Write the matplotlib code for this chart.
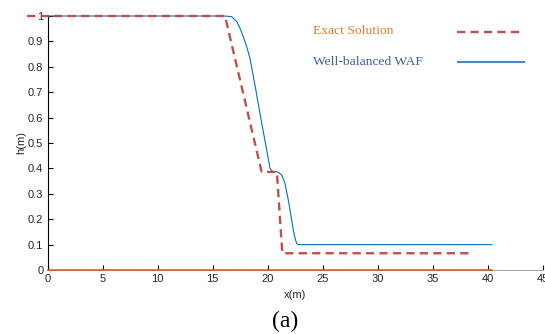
import matplotlib
matplotlib.use("Agg")
import matplotlib.pyplot as plt
from matplotlib.lines import Line2D

# Data
exact_x = [-1.85, 16.14, 19.47, 20.85, 21.35, 38.7]
exact_h = [1.0, 1.0, 0.386, 0.386, 0.066, 0.066]

waf_x = [0.0, 15.98, 16.4, 16.75, 17.2, 17.5, 17.8, 18.11, 18.41, 18.86, 19.47, 19.93,
         20.09, 20.23, 20.38, 20.53, 20.84, 21.05, 21.29, 21.59, 21.89, 22.2, 22.35,
         22.5, 22.65, 22.8, 40.4]
waf_h = [1.0, 1.0, 0.999, 0.997, 0.978, 0.952, 0.919, 0.879, 0.833, 0.728, 0.579, 0.472,
         0.433, 0.400, 0.391, 0.387, 0.387, 0.383, 0.374, 0.341, 0.276, 0.197, 0.157,
         0.126, 0.104, 0.100, 0.100]

bed_x = [0.0, 40.4]
bed_h = [0.0, 0.0]

xticks = [0, 5, 10, 15, 20, 25, 30, 35, 40, 45]
yticks = [0, 0.1, 0.2, 0.3, 0.4, 0.5, 0.6, 0.7, 0.8, 0.9, 1]
ytick_labels = ["0", "0.1", "0.2", "0.3", "0.4", "0.5", "0.6", "0.7", "0.8", "0.9", "1"]

W, H = 545, 334
fig = plt.figure(figsize=(W / 100, H / 100), dpi=100)
ax = fig.add_axes([47.5 / W, (H - 270) / H, (542.5 - 47.5) / W, 254 / H])

ax.plot(bed_x, bed_h, color="#D95319", lw=1.1, clip_on=False, zorder=3)
ax.plot(waf_x, waf_h, color="#0072BD", lw=0.8, clip_on=False, zorder=4,
        solid_joinstyle="round")
ax.plot(exact_x, exact_h, color="#C0504D", lw=1.7, linestyle=(0, (3.5, 2.2)),
        clip_on=False, zorder=5)

ax.set_xlim(0, 45)
ax.set_ylim(0, 1)
ax.set_xticks(xticks)
ax.set_yticks(yticks)
ax.set_yticklabels(ytick_labels)
for s in ["top", "right"]:
    ax.spines[s].set_visible(False)
ax.spines["left"].set_color("#000000")
ax.spines["left"].set_linewidth(0.8)
ax.spines["bottom"].set_color("#A6A6A6")
ax.spines["bottom"].set_linewidth(0.8)
ax.tick_params(direction="in", length=3.5, width=0.8, labelsize=8,
               labelcolor="#262626", color="#000000", pad=3)
for lab in ax.get_xticklabels() + ax.get_yticklabels():
    lab.set_fontfamily("Liberation Sans")

ax.set_xlabel("x(m)", fontsize=8, fontfamily="Liberation Sans", color="#262626", labelpad=4)
ax.set_ylabel("h(m)", fontsize=8, fontfamily="Liberation Sans", color="#262626", labelpad=1)

# manual legend
fig.text(313 / W, 1 - 31 / H, "Exact Solution", fontsize=9.7, fontfamily="Liberation Serif",
         color="#E07B30", va="center", ha="left")
fig.text(313 / W, 1 - 62 / H, "Well-balanced WAF", fontsize=9.7, fontfamily="Liberation Serif",
         color="#3F5F99", va="center", ha="left")
fig.add_artist(Line2D([457 / W, 522 / W], [1 - 32 / H, 1 - 32 / H], color="#C0504D",
                      lw=1.7, linestyle=(0, (3.5, 2.2)), transform=fig.transFigure))
fig.add_artist(Line2D([458 / W, 524 / W], [1 - 62 / H, 1 - 62 / H], color="#4A86C8",
                      lw=1.5, transform=fig.transFigure))

fig.text(285 / W, 1 - 321 / H, "(a)", fontsize=17, fontfamily="Liberation Serif",
         color="#000000", va="center", ha="center")

fig.savefig("out.png", dpi=100)
